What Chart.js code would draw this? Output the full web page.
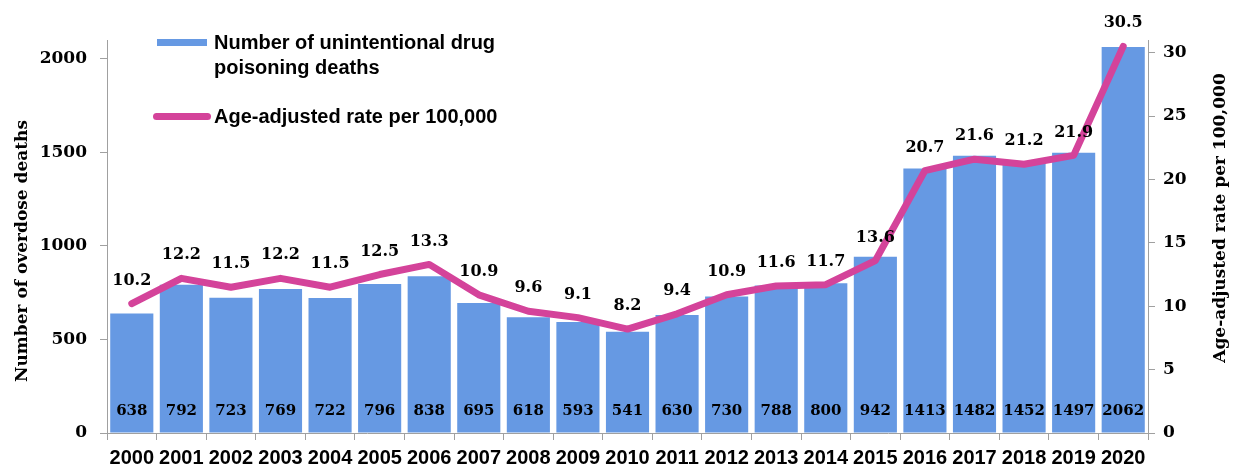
<!DOCTYPE html>
<html>
<head>
<meta charset="utf-8">
<script src="https://cdn.jsdelivr.net/npm/chart.js@4.4.1/dist/chart.umd.min.js"></script>
<style>
    body { margin: 0; background: #fff; }
    #wrap { position: relative; width: 1236px; height: 468px; }
    #legend { position: absolute; left: 0; top: 0; font: bold 20px "Liberation Sans", Arial, sans-serif; color: #000; }
    .swatch, .ltext { position: absolute; }
    .ltext { line-height: 25px; white-space: nowrap; }
</style>
</head>
<body>
<div id="wrap">
    <canvas id="overdoseChart" width="1236" height="468"></canvas>
    <div id="legend"></div>
</div>
<script>
const years = ['2000', '2001', '2002', '2003', '2004', '2005', '2006', '2007', '2008', '2009', '2010',
               '2011', '2012', '2013', '2014', '2015', '2016', '2017', '2018', '2019', '2020'];
const deaths = [638, 792, 723, 769, 722, 796, 838, 695, 618, 593, 541,
                630, 730, 788, 800, 942, 1413, 1482, 1452, 1497, 2062];
const rates = [10.2, 12.2, 11.5, 12.2, 11.5, 12.5, 13.3, 10.9, 9.6, 9.1, 8.2,
               9.4, 10.9, 11.6, 11.7, 13.6, 20.7, 21.6, 21.2, 21.9, 30.5];
const deathTicks = [0, 500, 1000, 1500, 2000];
const rateTicks = [0, 5, 10, 15, 20, 25, 30];

const barLabel = ['Number of unintentional drug', 'poisoning deaths'];
const lineLabel = 'Age-adjusted rate per 100,000';
const leftTitle = 'Number of overdose deaths';
const rightTitle = 'Age-adjusted rate per 100,000';

const barBlue = '#6699e3';
const linePink = '#d4439a';
const axisGrey = '#a0a0a0';
const serifBold = 'bold 17px "DejaVu Serif"';

// draws the numbers on bars and above the line, plus both axis titles
const valueLabels = {
    id: 'valueLabels',
    afterDatasetsDraw(chart) {
        const ctx = chart.ctx;
        const area = chart.chartArea;
        ctx.save();
        ctx.fillStyle = '#000';
        ctx.textAlign = 'center';
        ctx.textBaseline = 'middle';

        ctx.font = 'bold 15px "DejaVu Serif"';
        chart.getDatasetMeta(0).data.forEach((bar, i) => {
            ctx.fillText(deaths[i], bar.x, area.bottom - 22);
        });

        ctx.font = 'bold 16px "DejaVu Serif"';
        chart.getDatasetMeta(1).data.forEach((pt, i) => {
            ctx.fillText(rates[i].toFixed(1), pt.x, pt.y - 23);
        });
        ctx.restore();

        [[leftTitle, 23, 251], [rightTitle, 1221, 218]].forEach(([text, x, y]) => {
            ctx.save();
            ctx.fillStyle = '#000';
            ctx.textAlign = 'center';
            ctx.textBaseline = 'middle';
            ctx.font = serifBold;
            ctx.translate(x, y);
            ctx.rotate(-Math.PI / 2);
            ctx.fillText(text, 0, 0);
            ctx.restore();
        });
    }
};

function buildLegend() {
    const legend = document.getElementById('legend');
    legend.innerHTML =
        '<div class="swatch" style="left:157px;top:39px;width:50px;height:7px;background:' + barBlue + '"></div>' +
        '<div class="ltext" style="left:214px;top:30px">' + barLabel.join('<br>') + '</div>' +
        '<div class="swatch" style="left:153px;top:113px;width:58px;height:7px;border-radius:4px;background:' + linePink + '"></div>' +
        '<div class="ltext" style="left:214px;top:104px">' + lineLabel + '</div>';
}

function plainTick(value) {
    return String(value);
}

const ctx = document.getElementById('overdoseChart').getContext('2d');
const overdoseChart = new Chart(ctx, {
    type: 'bar',
    data: {
        labels: years,
        datasets: [
            {
                label: barLabel.join(' '),
                type: 'bar',
                data: deaths,
                backgroundColor: barBlue,
                barPercentage: 0.87,
                categoryPercentage: 1.0,
                yAxisID: 'y',
                order: 1
            },
            {
                label: lineLabel,
                type: 'line',
                data: rates,
                borderColor: linePink,
                borderWidth: 7,
                borderCapStyle: 'round',
                borderJoinStyle: 'round',
                pointRadius: 0,
                tension: 0,
                yAxisID: 'y1',
                order: 0
            }
        ]
    },
    options: {
        responsive: false,
        animation: false,
        layout: { padding: { top: 40, left: 0, right: 0, bottom: 0 } },
        plugins: {
            legend: { display: false },
            tooltip: { enabled: false }
        },
        scales: {
            x: {
                grid: { display: true, offset: true, drawOnChartArea: false, drawTicks: true, tickLength: 7, color: axisGrey },
                border: { color: axisGrey },
                ticks: {
                    autoSkip: false, maxRotation: 0, minRotation: 0, padding: 6, color: '#000',
                    font: { family: '"Liberation Sans", Arial, sans-serif', size: 20, weight: 'bold' }
                },
                afterFit(scale) { scale.height = 35; }
            },
            y: {
                position: 'left',
                min: 0,
                max: 2100,
                grid: { display: true, drawOnChartArea: false, drawTicks: true, tickLength: 7, color: axisGrey },
                border: { color: axisGrey },
                ticks: {
                    autoSkip: false, padding: 13, color: '#000',
                    callback: plainTick,
                    font: { family: '"DejaVu Serif"', size: 17, weight: 'bold' }
                },
                afterBuildTicks(scale) { scale.ticks = deathTicks.map(v => ({ value: v })); },
                afterFit(scale) { scale.width = 107; }
            },
            y1: {
                position: 'right',
                min: 0,
                max: 31,
                grid: { display: true, drawOnChartArea: false, drawTicks: true, tickLength: 7, color: axisGrey },
                border: { color: axisGrey },
                ticks: {
                    autoSkip: false, padding: 8, color: '#000',
                    callback: plainTick,
                    font: { family: '"DejaVu Serif"', size: 17, weight: 'bold' }
                },
                afterBuildTicks(scale) { scale.ticks = rateTicks.map(v => ({ value: v })); },
                afterFit(scale) { scale.width = 88; }
            }
        }
    },
    plugins: [valueLabels]
});

buildLegend();
</script>
</body>
</html>
